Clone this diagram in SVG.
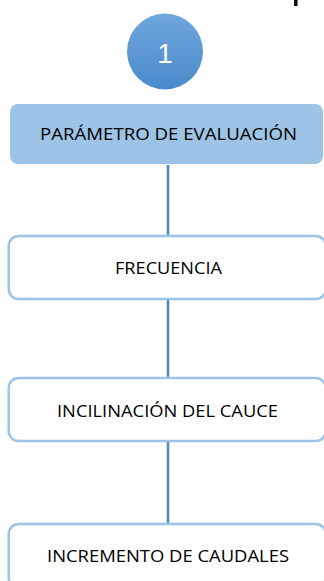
<svg xmlns="http://www.w3.org/2000/svg" width="324" height="581" viewBox="0 0 324 581">
<style>
.lbl{font-family:"Open Sans","Liberation Sans",Arial,sans-serif;font-size:16.5px;fill:#000;text-anchor:middle}
.box{fill:#fff;stroke:#9dc3e6;stroke-width:2.5}
.conn{stroke:#4f81bd;stroke-width:2.5;fill:none}
</style>
<defs>
<linearGradient id="cg" x1="0" y1="0" x2="0" y2="1">
<stop offset="0" stop-color="#6fa7dd"/>
<stop offset="1" stop-color="#4a8acb"/>
</linearGradient>
</defs>
<rect x="0" y="0" width="324" height="581" fill="#fff"/>
<rect x="294" y="0" width="3.5" height="6" fill="#000"/>
<g id="connectors">
<line class="conn" x1="168" y1="165" x2="168" y2="235"/>
<line class="conn" x1="168" y1="299" x2="168" y2="377"/>
<line class="conn" x1="168" y1="441" x2="168" y2="523"/>
</g>
<g id="node-circle">
<circle cx="165" cy="51.5" r="38" fill="url(#cg)"/>
<text x="165" y="63" font-family="Liberation Sans,Arial,sans-serif" font-size="28" fill="#fff" text-anchor="middle">1</text>
</g>
<g id="node-parametro">
<rect x="10" y="104" width="313" height="60" rx="8" fill="#9dc3e6"/>
<text class="lbl" x="168.5" y="140" textLength="257" lengthAdjust="spacingAndGlyphs">PARÁMETRO DE EVALUACIÓN</text>
</g>
<g id="node-frecuencia">
<rect class="box" x="8.7" y="236" width="317" height="63" rx="10"/>
<text class="lbl" x="168.5" y="274" textLength="107" lengthAdjust="spacingAndGlyphs">FRECUENCIA</text>
</g>
<g id="node-inclinacion">
<rect class="box" x="8.7" y="378" width="317" height="63" rx="10"/>
<text class="lbl" x="167.5" y="416.5" textLength="221" lengthAdjust="spacingAndGlyphs">INCILINACIÓN DEL CAUCE</text>
</g>
<g id="node-incremento">
<rect class="box" x="8.7" y="524" width="317" height="63" rx="10"/>
<text class="lbl" x="168" y="561.5" textLength="242" lengthAdjust="spacingAndGlyphs">INCREMENTO DE CAUDALES</text>
</g>
</svg>
